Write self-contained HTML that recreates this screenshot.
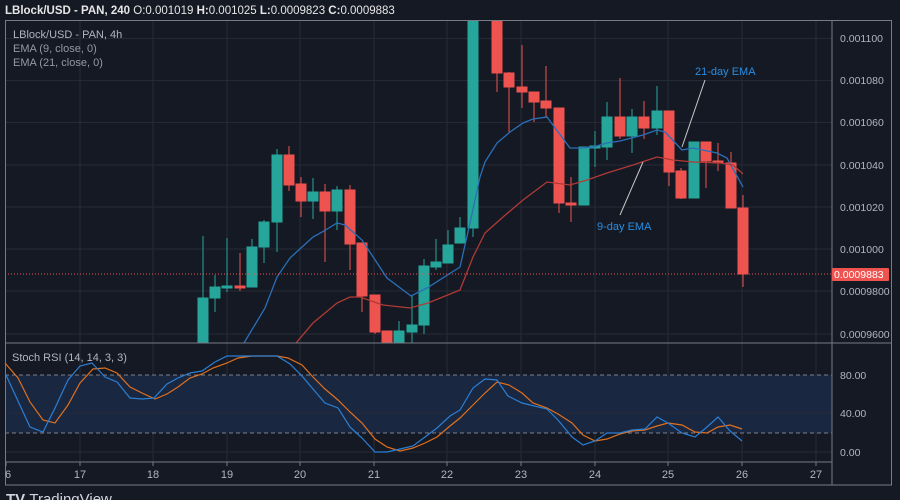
<!DOCTYPE html>
<html><head><meta charset="utf-8"><style>
html,body{margin:0;padding:0;background:#131722;}
svg{display:block;font-family:"Liberation Sans",sans-serif;}
</style></head><body>
<svg width="900" height="500" viewBox="0 0 900 500" xmlns="http://www.w3.org/2000/svg">
<rect width="900" height="500" fill="#151924"/>
<text x="5" y="14" fill="#e6e6e6" font-size="11.5" font-weight="bold">LBlock/USD - PAN, 240 <tspan font-weight="normal">O:</tspan><tspan font-weight="normal">0.001019 </tspan>H:<tspan font-weight="normal">0.001025 </tspan>L:<tspan font-weight="normal">0.0009823 </tspan>C:<tspan font-weight="normal">0.0009883</tspan></text>
<!-- grid -->
<g stroke="#262a36" stroke-width="1">
<line x1="80" y1="20" x2="80" y2="462"/><line x1="153" y1="20" x2="153" y2="462"/><line x1="227" y1="20" x2="227" y2="462"/><line x1="300" y1="20" x2="300" y2="462"/><line x1="374" y1="20" x2="374" y2="462"/><line x1="447" y1="20" x2="447" y2="462"/><line x1="521" y1="20" x2="521" y2="462"/><line x1="595" y1="20" x2="595" y2="462"/><line x1="668" y1="20" x2="668" y2="462"/><line x1="742" y1="20" x2="742" y2="462"/><line x1="816" y1="20" x2="816" y2="462"/>
<line x1="5" y1="38.5" x2="832" y2="38.5"/><line x1="5" y1="80.5" x2="832" y2="80.5"/><line x1="5" y1="122.5" x2="832" y2="122.5"/><line x1="5" y1="165" x2="832" y2="165"/><line x1="5" y1="207" x2="832" y2="207"/><line x1="5" y1="249" x2="832" y2="249"/><line x1="5" y1="291" x2="832" y2="291"/><line x1="5" y1="334" x2="832" y2="334"/>
</g>
<!-- stoch band -->
<rect x="5" y="375" width="827" height="58" fill="#1a2740"/>
<g stroke="#262a36"><line x1="5" y1="413" x2="832" y2="413"/><line x1="5" y1="452" x2="832" y2="452"/></g>
<g stroke="#7d808a" stroke-dasharray="4,3"><line x1="5" y1="375" x2="832" y2="375"/><line x1="5" y1="433" x2="832" y2="433"/></g>
<!-- candles -->
<g id="c">
<svg x="0" y="20" width="832" height="323" overflow="hidden" viewBox="0 20 832 323">
<g stroke-width="1">
<g stroke="#26a69a" fill="#26a69a">
<line x1="203" y1="236" x2="203" y2="343"/><rect x="198" y="298" width="10" height="50"/>
<line x1="215" y1="275" x2="215" y2="312"/><rect x="210" y="287" width="10" height="11"/>
<line x1="227" y1="238" x2="227" y2="292"/><rect x="222" y="286" width="10" height="2"/>
<line x1="252" y1="239" x2="252" y2="287"/><rect x="247" y="247" width="10" height="40"/>
<line x1="264" y1="220" x2="264" y2="263"/><rect x="259" y="222" width="10" height="25"/>
<line x1="277" y1="149" x2="277" y2="252"/><rect x="272" y="155" width="10" height="67"/>
<line x1="313" y1="178" x2="313" y2="219"/><rect x="308" y="192" width="10" height="9"/>
<line x1="337" y1="186" x2="337" y2="230"/><rect x="332" y="190" width="10" height="21"/>
<line x1="399" y1="321" x2="399" y2="343"/><rect x="394" y="331" width="10" height="15"/>
<line x1="412" y1="296" x2="412" y2="343"/><rect x="407" y="325" width="10" height="7"/>
<line x1="424" y1="259" x2="424" y2="334"/><rect x="419" y="266" width="10" height="59"/>
<line x1="436" y1="239" x2="436" y2="270"/><rect x="431" y="262" width="10" height="5"/>
<line x1="448" y1="230" x2="448" y2="263"/><rect x="443" y="245" width="10" height="18"/>
<line x1="460" y1="217" x2="460" y2="237"/><rect x="455" y="228" width="10" height="15"/>
<line x1="473" y1="10" x2="473" y2="237"/><rect x="468" y="10" width="10" height="218"/>
<rect x="579" y="147" width="10" height="58"/>
<line x1="595" y1="131" x2="595" y2="167"/><rect x="590" y="146" width="10" height="2"/>
<line x1="607" y1="102" x2="607" y2="160"/><rect x="602" y="117" width="10" height="30"/>
<line x1="632" y1="109" x2="632" y2="153"/><rect x="627" y="117" width="10" height="19"/>
<line x1="657" y1="86" x2="657" y2="135"/><rect x="652" y="111" width="10" height="17"/>
<rect x="689" y="142" width="10" height="56"/>
</g>
<g stroke="#ef5350" fill="#ef5350">
<line x1="240" y1="253" x2="240" y2="291"/><rect x="235" y="286" width="10" height="2"/>
<line x1="289" y1="146" x2="289" y2="191"/><rect x="284" y="155" width="10" height="30"/>
<line x1="301" y1="177" x2="301" y2="217"/><rect x="296" y="184" width="10" height="17"/>
<line x1="325" y1="184" x2="325" y2="262"/><rect x="320" y="192" width="10" height="19"/>
<line x1="350" y1="185" x2="350" y2="270"/><rect x="345" y="190" width="10" height="54"/>
<line x1="362" y1="243" x2="362" y2="312"/><rect x="357" y="243" width="10" height="53"/>
<line x1="375" y1="295" x2="375" y2="334"/><rect x="370" y="295" width="10" height="37"/>
<rect x="382" y="331" width="10" height="15"/>
<line x1="497" y1="10" x2="497" y2="92"/><rect x="492" y="10" width="10" height="63"/>
<line x1="509" y1="72" x2="509" y2="132"/><rect x="504" y="73" width="10" height="14"/>
<line x1="522" y1="45" x2="522" y2="108"/><rect x="517" y="87" width="10" height="5"/>
<line x1="534" y1="92" x2="534" y2="122"/><rect x="529" y="92" width="10" height="10"/>
<line x1="546" y1="66" x2="546" y2="118"/><rect x="541" y="101" width="10" height="7"/>
<line x1="559" y1="108" x2="559" y2="213"/><rect x="554" y="108" width="10" height="95"/>
<line x1="571" y1="177" x2="571" y2="222"/><rect x="566" y="203" width="10" height="2"/>
<line x1="620" y1="78" x2="620" y2="139"/><rect x="615" y="117" width="10" height="19"/>
<line x1="644" y1="101" x2="644" y2="139"/><rect x="639" y="117" width="10" height="11"/>
<line x1="669" y1="111" x2="669" y2="186"/><rect x="664" y="111" width="10" height="61"/>
<line x1="681" y1="168" x2="681" y2="199"/><rect x="676" y="171" width="10" height="27"/>
<line x1="706" y1="142" x2="706" y2="188"/><rect x="701" y="142" width="10" height="19"/>
<line x1="718" y1="143" x2="718" y2="171"/><rect x="713" y="161" width="10" height="2"/>
<line x1="731" y1="152" x2="731" y2="208"/><rect x="726" y="163" width="10" height="45"/>
<line x1="743" y1="195" x2="743" y2="287"/><rect x="738" y="208" width="10" height="66"/>
</g>
</g>
<polyline fill="none" stroke="#2a6fb8" stroke-width="1.3" points="244,343 265,308 277,277 290,258 313,237 324,231 337,223 345,225 362,240 387,278 411,296 427,288 460,267 470,223 480,177 485,162 497,143 510,132 523,123 533,119 547,117 570,148 580,148 593,147 607,143 620,141 643,135 657,130 665,132 682,150 693,148 717,153 727,158 743,187"/>
<polyline fill="none" stroke="#b03a35" stroke-width="1.3" points="296,343 313,323 337,303 350,297 360,297 383,305 410,308 428,303 460,290 473,257 480,243 485,233 503,217 523,200 547,182 570,185 587,180 607,173 633,165 657,157 673,160 693,162 720,163 733,165 743,174"/>
</svg>
</g>
<line x1="5" y1="274" x2="832" y2="274" stroke="#ef5350" stroke-dasharray="1,2"/>
<!-- annotations -->
<line x1="705" y1="80" x2="682" y2="147" stroke="#c8c8c8"/>
<line x1="620" y1="215" x2="643" y2="162" stroke="#c8c8c8"/>
<text x="695" y="75" fill="#2a8de0" font-size="11">21-day EMA</text>
<text x="597" y="230" fill="#2a8de0" font-size="11">9-day EMA</text>
<!-- legend -->
<text x="13" y="38" fill="#b2b5be" font-size="11">LBlock/USD - PAN, 4h</text>
<text x="13" y="52" fill="#9598a1" font-size="11">EMA (9, close, 0)</text>
<text x="13" y="66" fill="#9598a1" font-size="11">EMA (21, close, 0)</text>
<text x="12" y="361" fill="#b2b5be" font-size="11">Stoch RSI (14, 14, 3, 3)</text>
<!-- stoch lines -->
<polyline fill="none" stroke="#e0701e" stroke-width="1.2" points="5,363 18,378 30,402 43,420 55,423 68,405 80,383 93,369 105,368 117,373 130,387 142,393 155,399 167,394 178,387 190,378 202,374 213,368 227,363 238,358 252,356 277,356 288,358 302,365 313,377 325,389 338,400 350,412 362,423 375,439 387,447 400,451 413,448 425,443 437,437 450,426 460,418 473,405 485,393 497,382 509,385 522,393 533,403 547,408 558,414 572,423 583,435 595,441 607,439 620,434 632,431 645,430 657,426 668,423 682,425 695,432 707,433 718,427 730,425 742,429"/>
<polyline fill="none" stroke="#2a7fd4" stroke-width="1.2" points="6,375 30,427 43,432 55,408 68,380 80,366 92,363 105,377 117,382 130,398 142,399 154,398 167,384 178,378 190,373 202,371 215,362 227,356 277,356 290,364 302,376 313,389 325,403 338,408 350,427 362,438 375,452 387,452 400,449 413,446 425,437 437,428 450,416 460,410 473,388 485,379 497,380 508,396 522,403 547,409 558,420 572,437 583,445 595,441 607,433 620,433 632,430 645,429 657,417 668,423 682,433 695,437 707,427 718,417 730,431 742,441"/>
<!-- frames -->
<g stroke="#787b86" fill="none" stroke-width="1">
<rect x="5.5" y="20.5" width="886" height="464.5"/>
<line x1="5" y1="343" x2="891" y2="343"/>
<line x1="5" y1="462" x2="832" y2="462"/>
<line x1="832" y1="20" x2="832" y2="485"/>
</g>
<g stroke="#787b86"><line x1="6" y1="462" x2="6" y2="466"/><line x1="80" y1="462" x2="80" y2="466"/><line x1="153" y1="462" x2="153" y2="466"/><line x1="227" y1="462" x2="227" y2="466"/><line x1="300" y1="462" x2="300" y2="466"/><line x1="374" y1="462" x2="374" y2="466"/><line x1="447" y1="462" x2="447" y2="466"/><line x1="521" y1="462" x2="521" y2="466"/><line x1="595" y1="462" x2="595" y2="466"/><line x1="668" y1="462" x2="668" y2="466"/><line x1="742" y1="462" x2="742" y2="466"/><line x1="816" y1="462" x2="816" y2="466"/></g>
<g fill="#b2b5be" font-size="11" text-anchor="middle">
<text x="8" y="478">6</text><text x="80" y="478">17</text><text x="153" y="478">18</text><text x="227" y="478">19</text><text x="300" y="478">20</text><text x="374" y="478">21</text><text x="447" y="478">22</text><text x="521" y="478">23</text><text x="595" y="478">24</text><text x="668" y="478">25</text><text x="742" y="478">26</text><text x="816" y="478">27</text>
</g>
<g fill="#b2b5be" font-size="10.5">
<text x="840" y="42">0.001100</text><text x="840" y="84">0.001080</text><text x="840" y="126">0.001060</text><text x="840" y="169">0.001040</text><text x="840" y="211">0.001020</text><text x="840" y="253">0.001000</text><text x="840" y="295">0.0009800</text><text x="840" y="338">0.0009600</text>
<text x="840" y="379">80.00</text><text x="840" y="417">40.00</text><text x="840" y="456">0.00</text>
</g>
<rect x="832" y="268" width="57" height="13" rx="1" fill="#ef5350"/>
<text x="834" y="278" fill="#ffffff" font-size="10.5">0.0009883</text>
<text x="6" y="504" fill="#d1d4dc" font-size="15" font-weight="bold">TV <tspan font-weight="normal">TradingView</tspan></text>
</svg>
</body></html>
